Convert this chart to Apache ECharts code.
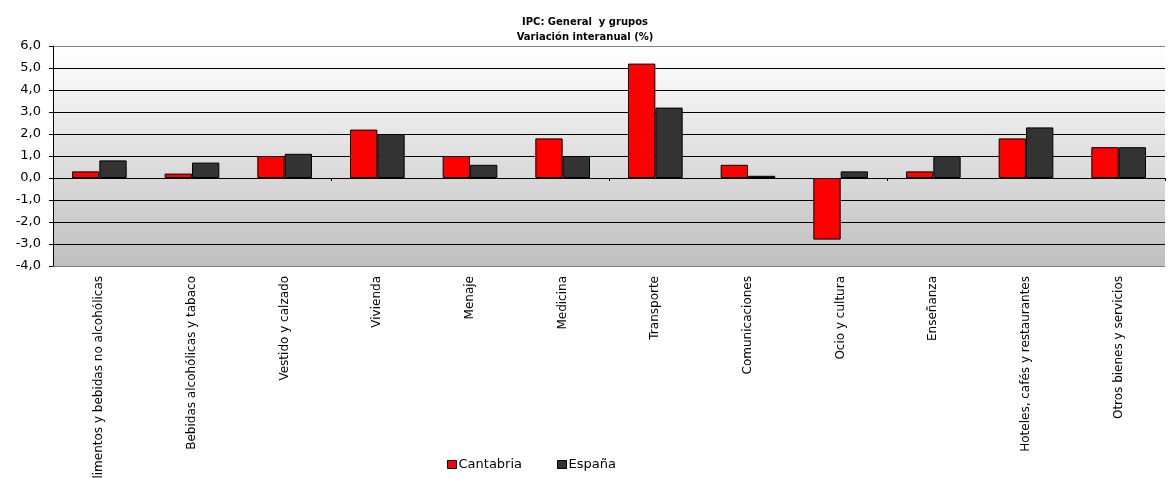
<!DOCTYPE html>
<html>
<head>
<meta charset="utf-8">
<script src="https://cdn.jsdelivr.net/npm/echarts@6/dist/echarts.min.js"></script>
<style>html,body{margin:0;padding:0;background:#fff}#c{width:1170px;height:478px}</style>
</head>
<body>
<div id="c"></div>
<script>
const categories = ["Alimentos y bebidas no alcohólicas","Bebidas alcohólicas y tabaco","Vestido y calzado","Vivienda","Menaje","Medicina","Transporte","Comunicaciones","Ocio y cultura","Enseñanza","Hoteles, cafés y restaurantes","Otros bienes y servicios"];
const cantabria = [0.3, 0.2, 1.0, 2.2, 1.0, 1.8, 5.2, 0.6, -2.8, 0.3, 1.8, 1.4];
const espana = [0.8, 0.7, 1.1, 2.0, 0.6, 1.0, 3.2, 0.1, 0.3, 1.0, 2.3, 1.4];
const seriesNames = ["Cantabria", "España"];
const titleLines = ["IPC: General  y grupos", "Variación interanual (%)"];

const chart = echarts.init(document.getElementById('c'));
const font = '"DejaVu Sans", Verdana, sans-serif';
chart.setOption({
  animation: false,
  title: {
    text: titleLines.join('\n'),
    left: 'center', top: 10,
    textStyle: {fontFamily: font, fontSize: 10, fontWeight: 'bold', color: '#000', lineHeight: 15}
  },
  legend: {
    bottom: 2, left: 442,
    itemWidth: 9, itemHeight: 8, itemGap: 35,
    icon: 'rect',
    itemStyle: {borderColor: '#000', borderWidth: 1},
    textStyle: {fontFamily: font, fontSize: 13, color: '#000', padding: [0,0,0,-3]},
    data: seriesNames
  },
  grid: {
    left: 53, right: 5, top: 46, bottom: 212,
    containLabel: false, outerBoundsMode: 'none',
    show: true, borderWidth: 0,
    backgroundColor: new echarts.graphic.LinearGradient(0, 0, 0, 1, [
      {offset: 0, color: '#ffffff'}, {offset: 1, color: '#bfbfbf'}
    ])
  },
  xAxis: [{
    type: 'category', data: categories,
    axisLine: {onZero: true, lineStyle: {color: '#000', width: 1}},
    axisTick: {show: true, length: 3, inside: false, lineStyle: {color: '#000'}},
    axisLabel: {show: false}
  }, {
    type: 'category', data: categories, position: 'bottom',
    axisLine: {show: false},
    axisTick: {show: false},
    axisLabel: {
      show: true, rotate: 90, interval: 0, margin: 10,
      fontFamily: font, fontSize: 12, color: '#000'
    }
  }],
  yAxis: {
    type: 'value', min: -4, max: 6, interval: 1,
    axisLine: {show: true, lineStyle: {color: '#000'}},
    axisTick: {show: true, length: 4, lineStyle: {color: '#000'}},
    axisLabel: {
      fontFamily: font, fontSize: 13, color: '#000', margin: 12,
      formatter: v => v.toFixed(1).replace('.', ',')
    },
    splitLine: {show: true, lineStyle: {
      color: ['#808080','#000','#000','#000','#000','#000','#000','#000','#000','#000','#808080'],
      width: 1
    }}
  },
  series: [{
    name: seriesNames[0], type: 'bar', data: cantabria,
    barWidth: '29.5%', barGap: '0%',
    itemStyle: {color: '#ff0000', borderColor: '#000', borderWidth: 1}
  }, {
    name: seriesNames[1], type: 'bar', data: espana,
    barWidth: '29.5%', barGap: '0%',
    itemStyle: {color: '#333333', borderColor: '#000', borderWidth: 1}
  }]
});
</script>
</body>
</html>
